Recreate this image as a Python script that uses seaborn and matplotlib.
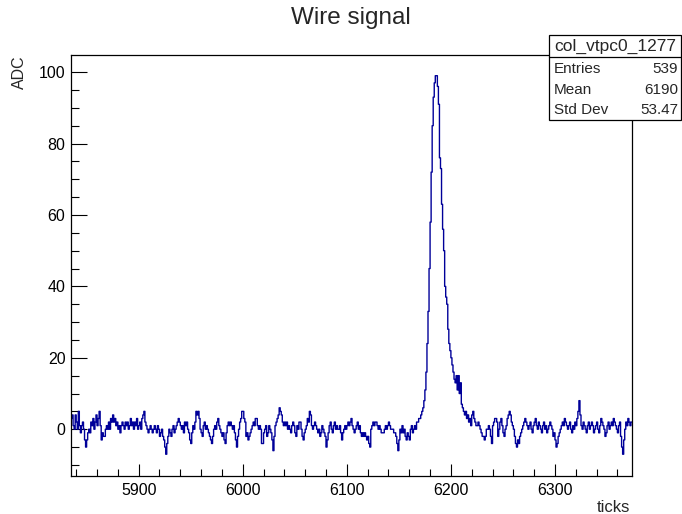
import numpy as np
import pandas as pd
import matplotlib
matplotlib.use("Agg")
import matplotlib.pyplot as plt
from matplotlib.ticker import MultipleLocator
from matplotlib.patches import Rectangle
from matplotlib.lines import Line2D
import seaborn as sns

# ---------------- data ----------------
title = "Wire signal"
hist_name = "col_vtpc0_1277"
x_label = "ticks"
y_label = "ADC"
first_tick = 5835
n_bins = 539
stats_labels = ["Entries", "Mean", "Std Dev"]
stats_values = ["539", "6190", "53.47"]

adc = [
    3, 4, 1, 0, 4, 2, 0, 5, 1, -1,
    1, 2, 0, -3, -5, -3, -1, 0, -1, 2,
    1, 3, 0, 2, 4, 1, 3, 5, 1, -3,
    -1, -2, -2, 0, 1, 0, 2, 0, 3, 2,
    4, 2, 3, 1, 2, 0, 1, -1, 1, 2,
    1, 0, 2, 1, 2, 0, 1, 3, 1, 2,
    0, 2, 1, 3, 0, 1, 2, 0, 3, 4,
    5, 2, 1, 0, -1, 0, 1, 0, -1, 0,
    1, 0, -1, 1, 0, -2, -1, 0, -2, -3,
    -5, -7, -4, -2, 0, -1, -2, 0, 1, -1,
    0, 1, 2, 3, 2, 1, 0, 1, -1, 2,
    1, 2, 0, -1, -3, -4, -1, 1, 0, 2,
    5, 4, 5, 3, 0, -1, -2, 1, 2, 0,
    1, 0, -1, -2, -3, -4, -2, 0, 1, 0,
    2, 3, 1, 0, -1, -2, -1, -3, -4, -1,
    1, 2, 1, 2, 1, 0, 1, -1, -3, -5,
    -2, 0, 2, 3, 5, 5, 3, 2, -2, -1,
    -3, -2, -1, 0, 1, 2, 1, 3, 3, 1,
    0, 1, 0, -4, -4, -1, 0, 1, -2, -1,
    1, 0, -1, -3, -6, -2, 1, 2, 3, 4,
    6, 5, 4, 2, 1, 2, 1, 2, 0, 1,
    0, -1, 1, 2, 1, -1, -2, 1, 0, 2,
    2, 0, -2, -3, -1, 0, 1, 3, 2, 5,
    4, 1, 0, 1, 2, 1, 0, -1, 0, -2,
    -1, 1, 0, -1, -2, -5, -3, -1, 1, 2,
    0, -1, 1, 2, 0, 1, 0, 0, 1, -1,
    -3, -1, 0, 1, 0, 1, 2, 1, 2, 3,
    1, 0, -1, 0, 1, 2, 0, 1, -1, -2,
    -1, -2, -1, -2, -3, -2, -4, -5, 0, 1,
    2, 1, 2, 2, 1, 0, 1, 0, -1, -1,
    -1, 0, 1, 0, 1, 2, 1, 0, 0, 0,
    -1, -1, -2, -4, -6, -3, 0, -1, 1, -1,
    0, -2, -3, -1, -2, -3, 0, 1, -1, 0,
    1, 0, 2, 2, 3, 3, 4, 5, 6, 8,
    11, 16, 24, 33, 45, 58, 72, 85, 93, 97,
    99, 99, 96, 91, 76, 73, 63, 56, 50, 40,
    37, 35, 28, 24, 22, 20, 18, 16, 14, 13,
    15, 11, 15, 10, 13, 7, 6, 5, 4, 5,
    3, 4, 2, 3, 1, 4, 5, 3, 2, 1,
    1, 2, 1, 0, -1, -2, -2, -3, -2, 0,
    0, 1, 0, -2, -4, 1, 2, 3, 3, 2,
    -2, 0, 2, 3, 1, -1, -2, 0, 1, 3,
    4, 5, 4, 2, 1, 0, -2, -4, -5, -3,
    -4, -2, -1, 0, 1, 2, 3, 2, 1, 0,
    1, 2, 0, -1, 1, 2, 3, 1, 0, 2,
    1, 0, -1, 1, 2, 0, 1, -1, 0, 1,
    2, 1, 0, -2, -1, -3, -5, -4, -2, -1,
    0, 1, 2, 1, 3, 2, 1, 0, 1, 2,
    0, -1, 1, 0, 2, 1, 3, 5, 8, 4,
    1, 0, 2, 1, 0, -1, 1, 2, 0, 1,
    2, 1, -1, 0, 1, 2, 0, -1, 1, 3,
    2, 1, 0, -2, -1, 1, 2, 0, 1, 2,
    1, 3, 2, 1, 0, -1, 1, 2, -2, -5,
    -7, -3, 0, 2, 1, 3, 2, 1, 2,
]
assert len(adc) == n_bins

edges = np.arange(first_tick, first_tick + n_bins + 1)
centers = edges[:-1] + 0.5
df = pd.DataFrame({"tick": centers, "adc": np.asarray(adc, dtype=float)})

# ---------------- style ----------------
sns.set_style("ticks")
plt.rcParams["font.family"] = ["Liberation Sans", "DejaVu Sans"]

W, H = 682, 514
fig = plt.figure(figsize=(W / 100, H / 100), dpi=100)
L, R, T, B = 71, 632, 55, 476
ax = fig.add_axes([L / W, 1 - B / H, (R - L) / W, (B - T) / H])

line_color = "#000099"
sns.histplot(data=df, x="tick", weights="adc", bins=n_bins,
             binrange=(first_tick, first_tick + n_bins), element="step",
             fill=False, color=line_color, linewidth=1.0, ax=ax)

ax.set_xlim(edges[0], edges[-1])
ax.set_ylim(-13.1, 104.8)
ax.set_xlabel("")
ax.set_ylabel("")

ax.xaxis.set_major_locator(MultipleLocator(100))
ax.xaxis.set_minor_locator(MultipleLocator(20))
ax.yaxis.set_major_locator(MultipleLocator(20))
ax.yaxis.set_minor_locator(MultipleLocator(5))
ax.tick_params(axis="both", which="both", direction="in", top=False, right=False,
               labelsize=11.5, colors="black", width=0.8)
ax.tick_params(axis="x", which="major", length=9, pad=5)
ax.tick_params(axis="x", which="minor", length=5)
ax.tick_params(axis="y", which="major", length=11.5, pad=4)
ax.tick_params(axis="y", which="minor", length=5.8)
for s in ax.spines.values():
    s.set_visible(True)
    s.set_color("black")
    s.set_linewidth(0.9)

# titles
fig.text(351 / W, 1 - 18 / H, title, ha="center", va="center", fontsize=17.5)
fig.text(19 / W, 1 - 55 / H, y_label, rotation=90, ha="center", va="top", fontsize=11.5)
fig.text(630 / W, 1 - 507 / H, x_label, ha="right", va="center", fontsize=12)

# stats box
bx0, bx1, by0, by1 = 549, 681, 35, 120
fig.add_artist(Rectangle((bx0 / W, 1 - by1 / H), (bx1 - bx0) / W, (by1 - by0) / H,
                         transform=fig.transFigure, facecolor="white",
                         edgecolor="black", linewidth=0.9, zorder=5))
fig.add_artist(Line2D([bx0 / W, bx1 / W], [1 - 57 / H, 1 - 57 / H],
                      transform=fig.transFigure, color="black", linewidth=0.9, zorder=6))
fig.text((bx0 + bx1) / 2 / W, 1 - 46 / H, hist_name, ha="center", va="center",
         fontsize=12.5, zorder=7)
row_y = [69, 89.5, 110]
for lab, val, yy in zip(stats_labels, stats_values, row_y):
    fig.text(554 / W, 1 - yy / H, lab, ha="left", va="center", fontsize=11, zorder=7)
    fig.text(678 / W, 1 - yy / H, val, ha="right", va="center", fontsize=11, zorder=7)

fig.savefig("out.png", dpi=100)
